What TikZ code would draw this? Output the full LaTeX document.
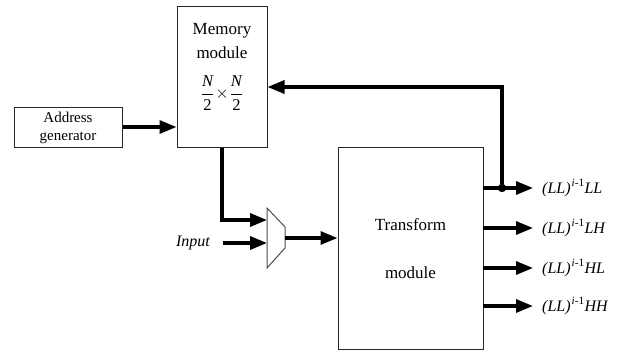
\documentclass[tikz,border=0pt]{standalone}
\usepackage{fontspec}
\setmainfont{Liberation Serif}
\usetikzlibrary{arrows.meta}

\tikzset{
  block/.style={draw=black!85, line width=1pt, inner sep=0pt},
  tip/.tip={Triangle[length=17pt,width=13pt]},
  bus/.style={line width=3.2pt, -tip},
  wire/.style={line width=3.2pt},
  txt/.style={inner sep=0pt, anchor=base, font=\fontsize{17}{20}\selectfont},
  smalltxt/.style={inner sep=0pt, anchor=base, font=\fontsize{15}{18}\selectfont},
  outlbl/.style={inner sep=0pt, anchor=west, font=\fontsize{16}{19}\selectfont\itshape},
}

\newcommand{\outname}[1]{(LL)\textsuperscript{\kern1pt i\upshape -1}#1}

\begin{document}
\begin{tikzpicture}[x=1pt,y=-1pt]
  \useasboundingbox (0,0) rectangle (618,351);

  % memory module
  \node[block, minimum width=90pt, minimum height=141pt] (mem) at (222,76.5) {};
  \node[txt] (memt1) at (222,34) {Memory};
  \node[txt] (memt2) at (222,58) {module};
  \node[inner sep=0pt, font=\fontsize{16.5}{19}\selectfont] (memfrac) at (222,93)
    {$\displaystyle\frac{\mbox{\itshape N}}{\mbox{2}}\!\times\!\frac{\mbox{\itshape N}}{\mbox{2}}$};

  % address generator
  \node[block, minimum width=108pt, minimum height=40pt] (addr) at (68,127) {};
  \node[smalltxt] (addrt1) at (68,122) {Address};
  \node[smalltxt] (addrt2) at (68,140) {generator};

  % transform module
  \node[block, minimum width=145pt, minimum height=202pt] (trans) at (410.5,248) {};
  \node[txt] (trt1) at (410.5,230) {Transform};
  \node[txt] (trt2) at (410.5,278) {module};

  % multiplexer
  \coordinate (mxa) at (267,208);
  \coordinate (mxb) at (285,227);
  \coordinate (mxc) at (285,248);
  \coordinate (mxd) at (267,268);
  \draw[draw=black!70, line width=1pt] (mxa) -- (mxb) -- (mxc) -- (mxd) -- cycle;
  \coordinate (mxin1) at (267,220);
  \coordinate (mxin2) at (267,243);
  \coordinate (mxout) at (285,238);

  % input
  \node[inner sep=0pt, anchor=east, font=\fontsize{16}{19}\selectfont\itshape] (inp) at (210,243) {Input};
  \coordinate (inpstart) at (223,243);

  % connections
  \draw[bus] (addr.east) -- (addr.east -| mem.west);
  \draw[bus] (mem.south) |- (mxin1);
  \draw[bus] (inpstart) -- (mxin2);
  \draw[bus] (mxout) -- (mxout -| trans.west);

  % outputs
  \foreach \yy/\nm/\lab in {188/o1/LL, 228/o2/LH, 268/o3/HL, 306/o4/HH}{
    \coordinate (\nm s) at (483,\yy);
    \coordinate (\nm e) at (533,\yy);
    \draw[bus] (\nm s) -- (\nm e);
    \node[outlbl] (\nm l) at (542,\yy) {\outname{\lab}};
  }

  % feedback to memory
  \coordinate (tap) at (502,188);
  \coordinate (fbtop) at (502,87);
  \fill (tap) circle (4.2pt);
  \draw[wire, -tip] (tap) -- (fbtop) -- (fbtop -| mem.east);
\end{tikzpicture}
\end{document}
